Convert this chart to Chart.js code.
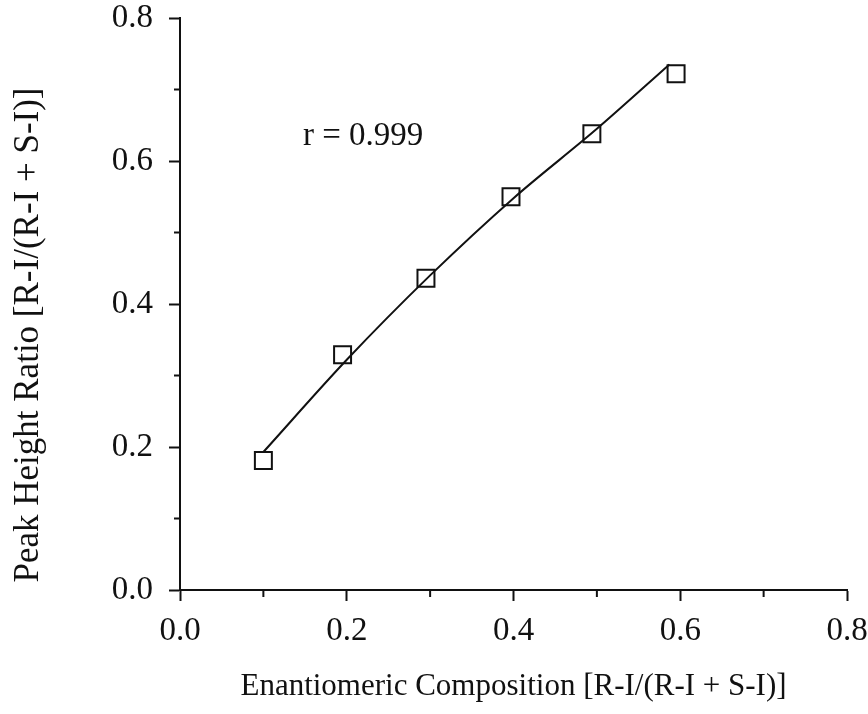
<!DOCTYPE html>
<html>
<head>
<meta charset="utf-8">
<style>
  html, body { margin: 0; padding: 0; background: #ffffff; }
  #wrap { width: 868px; height: 714px; }
</style>
<script src="https://cdn.jsdelivr.net/npm/chart.js@4/dist/chart.umd.min.js"></script>
</head>
<body>
<div id="wrap"><canvas id="c" width="868" height="714"></canvas></div>
<script>
// ---- data ----
const compositionX = [0.100, 0.195, 0.295, 0.397, 0.494, 0.595];
const ratioY       = [0.181, 0.329, 0.436, 0.550, 0.638, 0.722];
const fitX = [0.100, 0.200, 0.300, 0.400, 0.500, 0.587];
const fitY = [0.193, 0.322, 0.440, 0.548, 0.645, 0.735];
const tickValues = [0.0, 0.1, 0.2, 0.3, 0.4, 0.5, 0.6, 0.7, 0.8];
const majorTickLabels = ['0.0', '0.2', '0.4', '0.6', '0.8'];
const xTitle = 'Enantiomeric Composition [R-I/(R-I + S-I)]';
const yTitle = 'Peak Height Ratio [R-I/(R-I + S-I)]';
const annotationText = 'r = 0.999';
const annotationAt = { x: 0.1475, y: 0.622 };

const INK = '#111111';
const SERIF = '"Liberation Serif", "Times New Roman", serif';

function isMajor(v) { return Math.abs(Math.round(v * 10) % 2) === 0; }
function labelFor(v) {
  const s = v.toFixed(1);
  return majorTickLabels.includes(s) ? s : '';
}

const extras = {
  id: 'extras',
  afterDraw(chart) {
    const ctx = chart.ctx;
    const xs = chart.scales.x, ys = chart.scales.y;
    ctx.save();
    ctx.strokeStyle = INK;
    ctx.lineWidth = 2;
    // minor ticks
    tickValues.forEach(v => {
      if (isMajor(v)) return;
      const px = xs.getPixelForValue(v);
      ctx.beginPath(); ctx.moveTo(px, xs.top); ctx.lineTo(px, xs.top + 7); ctx.stroke();
      const py = ys.getPixelForValue(v);
      ctx.beginPath(); ctx.moveTo(ys.right, py); ctx.lineTo(ys.right - 6, py); ctx.stroke();
    });
    // annotation
    ctx.fillStyle = INK;
    ctx.font = '33px ' + SERIF;
    ctx.textAlign = 'left';
    ctx.textBaseline = 'alphabetic';
    ctx.fillText(annotationText, xs.getPixelForValue(annotationAt.x), ys.getPixelForValue(annotationAt.y));
    // y title (rotated)
    ctx.save();
    ctx.translate(38, 335);
    ctx.rotate(-Math.PI / 2);
    ctx.font = '35px ' + SERIF;
    ctx.textAlign = 'center';
    ctx.textBaseline = 'alphabetic';
    ctx.fillText(yTitle, 0, 0);
    ctx.restore();
    ctx.restore();
  }
};

const tickColor = (c) => (c.tick && !isMajor(c.tick.value)) ? 'rgba(0,0,0,0)' : INK;

new Chart(document.getElementById('c'), {
  type: 'scatter',
  data: {
    datasets: [
      {
        label: 'fit',
        data: fitX.map((x, i) => ({ x, y: fitY[i] })),
        showLine: true,
        borderColor: INK,
        borderWidth: 2,
        pointRadius: 0,
        tension: 0.4,
        cubicInterpolationMode: 'monotone',
        order: 2
      },
      {
        label: 'data',
        data: compositionX.map((x, i) => ({ x, y: ratioY[i] })),
        showLine: false,
        pointStyle: 'rect',
        pointRadius: 12,
        pointBorderWidth: 2,
        pointBorderColor: INK,
        pointBackgroundColor: 'rgba(0,0,0,0)',
        order: 1
      }
    ]
  },
  options: {
    responsive: false,
    animation: false,
    events: [],
    layout: { padding: { top: 18, right: 21, left: 0, bottom: 0 } },
    plugins: { legend: { display: false }, tooltip: { enabled: false } },
    scales: {
      x: {
        type: 'linear',
        min: 0, max: 0.8,
        afterBuildTicks: (s) => { s.ticks = tickValues.map(v => ({ value: v })); },
        afterFit: (s) => { s.height = 124; s.paddingLeft = 0; s.paddingRight = 0; },
        ticks: {
          autoSkip: false,
          maxRotation: 0,
          callback: (v) => labelFor(v),
          color: INK,
          font: { family: SERIF, size: 33, lineHeight: 1 },
          padding: 14
        },
        grid: { drawOnChartArea: false, tickLength: 11, tickWidth: 2, tickColor: tickColor },
        border: { color: INK, width: 2 },
        title: {
          display: true,
          text: xTitle,
          color: INK,
          font: { family: SERIF, size: 31 },
          padding: { top: 0, bottom: 9 }
        }
      },
      y: {
        type: 'linear',
        min: 0, max: 0.8,
        afterBuildTicks: (s) => { s.ticks = tickValues.map(v => ({ value: v })); },
        afterFit: (s) => { s.width = 180; s.paddingTop = 0; s.paddingBottom = 0; },
        ticks: {
          autoSkip: false,
          callback: (v) => labelFor(v),
          color: INK,
          font: { family: SERIF, size: 33, lineHeight: 1 },
          padding: 16
        },
        grid: { drawOnChartArea: false, tickLength: 11, tickWidth: 2, tickColor: tickColor },
        border: { color: INK, width: 2 }
      }
    }
  },
  plugins: [extras]
});
</script>
</body>
</html>
